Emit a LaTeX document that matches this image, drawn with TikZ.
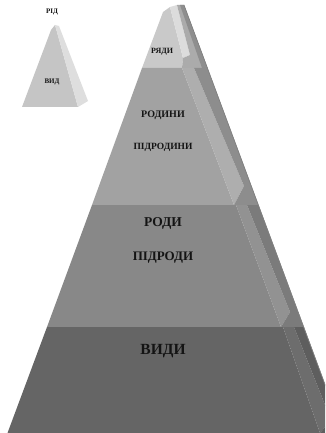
\documentclass[tikz,border=0pt]{standalone}
\usepackage{fontspec}
\setmainfont{Liberation Serif}
\definecolor{lOneF}{HTML}{C9C9C9}
\definecolor{lOneB}{HTML}{DCDCDC}
\definecolor{lOneS}{HTML}{ABABAB}
\definecolor{lOneO}{HTML}{8E8E8E}
\definecolor{lTwoF}{HTML}{A2A2A2}
\definecolor{lTwoB}{HTML}{AEAEAE}
\definecolor{lTwoS}{HTML}{8D8D8D}
\definecolor{lThrF}{HTML}{888888}
\definecolor{lThrB}{HTML}{929292}
\definecolor{lThrS}{HTML}{7B7B7B}
\definecolor{lFouF}{HTML}{656565}
\definecolor{lFouB}{HTML}{6D6D6D}
\definecolor{lFouS}{HTML}{5E5E5E}
\definecolor{smF}{HTML}{C5C5C5}
\definecolor{smS}{HTML}{DEDEDE}
\definecolor{txt}{HTML}{141414}
\tikzset{lbl/.style={text=txt,inner sep=0pt,font=\bfseries}}
\begin{document}
\begin{tikzpicture}[x=1pt,y=-1pt]
\useasboundingbox (0,0) rectangle (325,433);
\clip (0,0) rectangle (325,433);
% small pyramid
\fill[smF] (51,30) -- (55,25) -- (78,107) -- (22,107) -- cycle;
\fill[smS] (55,25) -- (59,26) -- (88,101) -- (78,107) -- cycle;
% layer 1
\fill[lOneF] (163,12) -- (170,7) -- (183,58) -- (182,68) -- (142,68) -- cycle;
\fill[lOneB] (170,7) -- (177,5) -- (190,55) -- (183,58) -- cycle;
\fill[lOneS] (177,5) -- (184,5) -- (207.5,68) -- (182,68) -- (183,58) -- (190,55) -- cycle;
\fill[lOneO] (180,5) -- (184,5) -- (207.5,68) -- (202,68) -- cycle;
% layer 2
\fill[lTwoF] (142,68) -- (182,68) -- (234,205) -- (92,205) -- cycle;
\fill[lTwoB] (182,68) -- (194,68) -- (244,186) -- (234,205) -- cycle;
\fill[lTwoS] (194,68) -- (207.5,68) -- (258.6,205) -- (234,205) -- (244,186) -- cycle;
% layer 3
\fill[lThrF] (92,205) -- (236,205) -- (281,327) -- (47,327) -- cycle;
\fill[lThrB] (236,205) -- (247,205) -- (290,312) -- (281,327) -- cycle;
\fill[lThrS] (247,205) -- (258.6,205) -- (304,327) -- (281,327) -- (290,312) -- cycle;
% layer 4
\fill[lFouF] (47,327) -- (283,327) -- (320,433) -- (7.5,433) -- cycle;
\fill[lFouB] (283,327) -- (294,327) -- (331,420) -- (320,433) -- cycle;
\fill[lFouS] (294,327) -- (304,327) -- (343,433) -- (320,433) -- (331,420) -- cycle;
% outer edge
\draw[black!50,line width=0.7pt] (184,5) -- (343,433);
% labels
\node[lbl,font=\bfseries\fontsize{7}{8}\selectfont] (rid) at (52,12) {РІД};
\node[lbl,font=\bfseries\fontsize{7}{8}\selectfont] (vyd) at (52,82) {ВИД};
\node[lbl,font=\bfseries\fontsize{8}{9}\selectfont] (ryady) at (162,52) {РЯДИ};
\node[lbl,font=\bfseries\fontsize{10}{11}\selectfont] (rodyny) at (163,115) {РОДИНИ};
\node[lbl,font=\bfseries\fontsize{9.5}{11}\selectfont] (pidrodyny) at (163,147) {ПІДРОДИНИ};
\node[lbl,font=\bfseries\fontsize{13.5}{15}\selectfont] (rody) at (163,223) {РОДИ};
\node[lbl,font=\bfseries\fontsize{13}{15}\selectfont] (pidrody) at (163,258) {ПІДРОДИ};
\node[lbl,font=\bfseries\fontsize{15.5}{17}\selectfont] (vydy) at (163,351) {ВИДИ};
\end{tikzpicture}
\end{document}
